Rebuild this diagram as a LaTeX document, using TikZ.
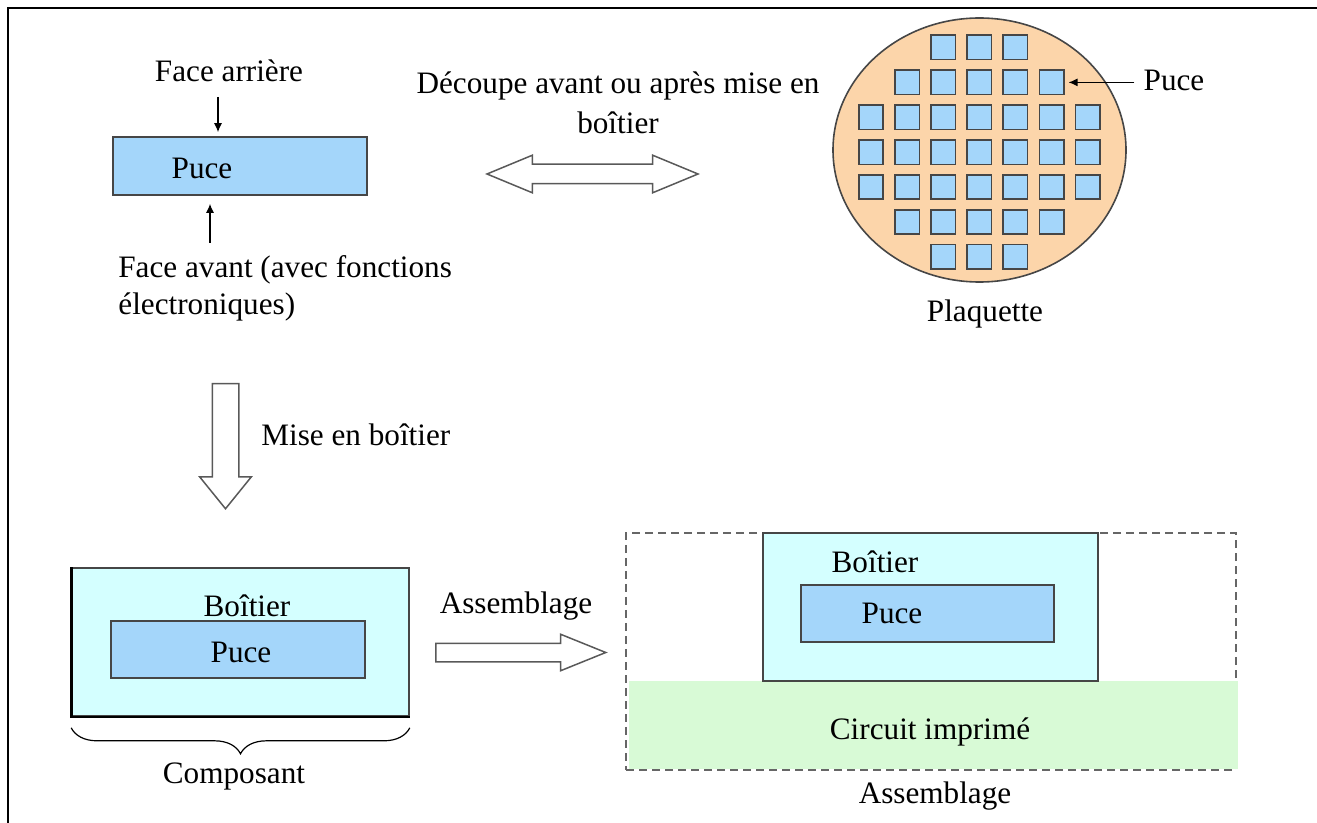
\documentclass[tikz,border=0pt]{standalone}
\usepackage{fontspec}
\setmainfont{Liberation Serif}
\usepackage{tikz}
\usetikzlibrary{arrows.meta,shapes.arrows,shapes.geometric,decorations.pathreplacing}

\definecolor{puceblue}{RGB}{164,214,250}
\definecolor{boitiercyan}{RGB}{212,255,255}
\definecolor{circuitgreen}{RGB}{216,250,214}
\definecolor{waferpeach}{RGB}{252,213,170}
\definecolor{edgegray}{RGB}{70,70,70}

\begin{document}
\begin{tikzpicture}[x=1pt, y=-1pt,
  txt/.style={font=\fontsize{15.6}{19.5}\selectfont, inner sep=0pt},
  chip/.style={draw=edgegray, fill=puceblue, line width=0.8pt, inner sep=0pt},
  boitier/.style={draw=edgegray, fill=boitiercyan, line width=0.8pt, inner sep=0pt},
  sq/.style={draw=edgegray, fill=puceblue, line width=0.8pt, minimum size=12.2pt, inner sep=0pt},
  bloc/.style={draw=black!65, fill=white, line width=0.75pt, inner xsep=0pt},
  fleche/.style={-{Latex[length=4.5pt,width=4pt]}, line width=0.6pt}]
  \useasboundingbox (0,0) rectangle (658.5,411.5);
  \draw[line width=1pt] (4,411.5) -- (4,4) -- (658.5,4);

  \node[chip, minimum width=127pt, minimum height=29pt] (puceA) at (120,83) {};
  \node[txt, anchor=base] (puceAtxt) at (101,89.5) {Puce};
  \node[txt, anchor=base] (arriere) at (114.5,40.8) {Face arrière};
  \node[txt, font=\fontsize{15.6}{18.5}\selectfont, anchor=base west, align=left] (avant) at (59,157.5)
    {Face avant (avec fonctions\\électroniques)};
  \coordinate (fa) at (109,48.5);
  \coordinate (fb) at (105,121.5);
  \draw[fleche, shorten >=2pt] (fa) -- (fa |- puceA.north);
  \draw[fleche, shorten >=4pt] (fb) -- (fb |- puceA.south);

  \node[bloc, double arrow, inner ysep=4.5pt, minimum height=105.5pt, minimum width=18pt,
        double arrow head extend=4.5pt, double arrow tip angle=45] (decoupe) at (296.25,87) {};
  \node[txt, font=\fontsize{15.6}{20}\selectfont, anchor=base, align=center] (decoupetxt) at (309,66.7)
    {Découpe avant ou après mise en\\boîtier};

  \node[ellipse, draw=edgegray, fill=waferpeach, line width=0.8pt,
        minimum width=146.5pt, minimum height=132pt] (plaquette) at (489.75,75) {};
  \foreach \r/\a/\b in {0/2/4,1/1/5,2/0/6,3/0/6,4/0/6,5/1/5,6/2/4}
    \foreach \c in {\a,...,\b}
      \node[sq] (sq\r\c) at (435.5+18.05*\c, 23.75+17.45*\r) {};
  \node[txt, anchor=base] (plaquettetxt) at (492.5,160.8) {Plaquette};
  \node[txt, anchor=base, inner xsep=4.5pt] (pucelbl) at (587,45.3) {Puce};
  \draw[fleche, shorten >=2pt] (sq15.east -| pucelbl.west) -- (sq15.east);

  \node[bloc, single arrow, rotate=-90, anchor=tail, inner ysep=6.25pt, minimum height=62.5pt, minimum width=25pt,
        single arrow head extend=6.25pt, single arrow tip angle=78] (mise) at (112.75,191.5) {};
  \node[txt, anchor=base west] (misetxt) at (130.5,222.5) {Mise en boîtier};

  \node[boitier, minimum width=168.5pt, minimum height=74pt] (boitierC) at (120.25,321) {};
  \draw[line width=1.3pt] (boitierC.north west) -- (boitierC.south west) -- (boitierC.south east);
  \node[txt, anchor=base] (boitierCtxt) at (123.5,308) {Boîtier};
  \node[chip, minimum width=127pt, minimum height=28.5pt] (puceC) at (119,324.75) {};
  \node[txt, anchor=base] (puceCtxt) at (120.5,331) {Puce};
  \draw[decorate, decoration={brace, mirror, amplitude=13pt}, line width=0.6pt]
    ([yshift=-5.5pt]boitierC.south west) -- ([yshift=-5.5pt]boitierC.south east);
  \node[txt, anchor=base] (composant) at (117,391.5) {Composant};

  \node[bloc, single arrow, anchor=tail, inner ysep=4.25pt, minimum height=85pt, minimum width=17.5pt,
        single arrow head extend=4.5pt, single arrow tip angle=44] (assembl) at (217.5,326.25) {};
  \node[txt, anchor=base] (assembltxt) at (258,306.5) {Assemblage};

  \node[draw=black!60, dash pattern=on 4pt off 2.5pt, line width=0.75pt,
        minimum width=305pt, minimum height=118.5pt, inner sep=0pt] (cadre) at (465.5,325.75) {};
  \fill[circuitgreen] (314.5,340.5) rectangle (619,384.4);
  \node[txt, anchor=base] (circuit) at (465,369.5) {Circuit imprimé};
  \node[boitier, minimum width=167.5pt, minimum height=74pt] (boitierR) at (465.25,303.5) {};
  \node[txt, anchor=base] (boitierRtxt) at (437.5,286) {Boîtier};
  \node[chip, minimum width=126.5pt, minimum height=28.5pt] (puceR) at (463.75,306.75) {};
  \node[txt, anchor=base] (puceRtxt) at (446,311.5) {Puce};
  \node[txt, anchor=base] (assemblage) at (467.5,401.5) {Assemblage};
\end{tikzpicture}
\end{document}
